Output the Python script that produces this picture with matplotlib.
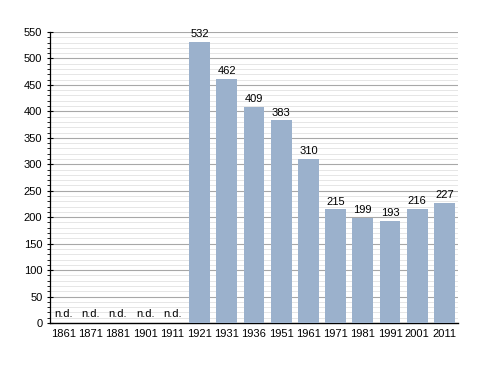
import matplotlib
matplotlib.use("Agg")
import matplotlib.pyplot as plt
from matplotlib.ticker import MultipleLocator

years = ["1861", "1871", "1881", "1901", "1911", "1921", "1931", "1936", "1951", "1961", "1971", "1981", "1991", "2001", "2011"]
values = [None, None, None, None, None, 532, 462, 409, 383, 310, 215, 199, 193, 216, 227]

plt.rcParams['font.family'] = ['Liberation Sans', 'DejaVu Sans']
fig = plt.figure(figsize=(4.88, 3.73), dpi=100)
ax = fig.add_axes([50/488, 50/373, 408/488, 291/373])

x = list(range(len(years)))
for i, v in enumerate(values):
    if v is None:
        ax.text(i, 8, "n.d.", ha="center", va="bottom", fontsize=8)
    else:
        ax.bar(i, v, width=0.77, color="#9bb1cc", zorder=3)
        ax.text(i, v + 5, str(v), ha="center", va="bottom", fontsize=8, zorder=4)

ax.set_xlim(-0.5, len(years) - 0.5)
ax.set_ylim(0, 550)
ax.set_xticks(x)
ax.set_xticklabels(years, fontsize=8)
ax.tick_params(axis="x", length=0, pad=4)
ax.yaxis.set_major_locator(MultipleLocator(50))
ax.yaxis.set_minor_locator(MultipleLocator(10))
ax.tick_params(axis="y", which="major", length=4, width=0.8, labelsize=8, direction="inout")
ax.tick_params(axis="y", which="minor", length=2, width=0.6, direction="out")
ax.grid(axis="y", which="major", color="#a8a8a8", linewidth=0.8, zorder=0)
ax.grid(axis="y", which="minor", color="#e2e2e2", linewidth=0.6, zorder=0)
ax.set_axisbelow(True)
for s in ["top", "right"]:
    ax.spines[s].set_visible(False)
ax.spines["left"].set_linewidth(0.9)
ax.spines["bottom"].set_linewidth(1.0)

fig.savefig("out.png", dpi=100)
